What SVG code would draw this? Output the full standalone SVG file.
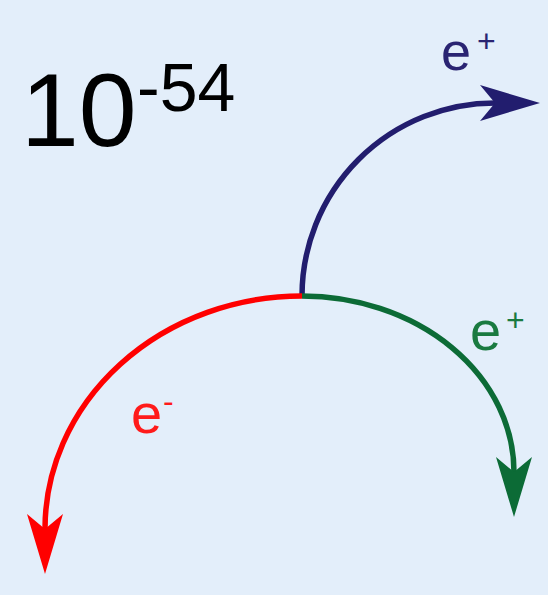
<svg xmlns="http://www.w3.org/2000/svg" width="548" height="595" viewBox="0 0 548 595">
<style>
.lbl{font-family:"Liberation Sans",Arial,sans-serif}
.arc{fill:none;stroke-width:5.5;stroke-linecap:butt}
.blue{stroke:#221D6E}
.green{stroke:#0C6B36}
.red{stroke:#FF0000}
</style>
<defs>
<marker id="ahB" markerUnits="userSpaceOnUse" markerWidth="62" markerHeight="40" viewBox="0 -20 62 40" refX="15" refY="0" orient="auto"><path d="M0,-18 L60,0 L0,18 L15,0 Z" fill="#221D6E"/></marker>
<marker id="ahG" markerUnits="userSpaceOnUse" markerWidth="62" markerHeight="40" viewBox="0 -20 62 40" refX="15" refY="0" orient="auto"><path d="M0,-18 L60,0 L0,18 L15,0 Z" fill="#0C6B36"/></marker>
<marker id="ahR" markerUnits="userSpaceOnUse" markerWidth="62" markerHeight="40" viewBox="0 -20 62 40" refX="15" refY="0" orient="auto"><path d="M0,-18 L60,0 L0,18 L15,0 Z" fill="#FF0000"/></marker>
</defs>
<rect x="0" y="0" width="548" height="595" fill="#E3EEFA"/>
<g id="title">
<text class="lbl" x="21" y="146" font-size="104" fill="#000">10</text>
<text class="lbl" x="137" y="111" font-size="68" fill="#000">-54</text>
</g>
<g id="connectors">
<path id="blue-arc" class="arc blue" d="M302,296 A193,193 0 0 1 495,103" marker-end="url(#ahB)"/>
<path id="green-arc" class="arc green" d="M302,296 A212,176 0 0 1 514,472" marker-end="url(#ahG)"/>
<path id="red-arc" class="arc red" d="M302,296 A257,233 0 0 0 45,529" marker-end="url(#ahR)"/>
</g>
<g id="label-blue">
<text class="lbl" x="441" y="70" font-size="54" fill="#2A2472">e</text>
<text class="lbl" x="477" y="52" font-size="32" fill="#2A2472">+</text>
</g>
<g id="label-green">
<text class="lbl" x="470" y="350" font-size="56" fill="#1A7A40">e</text>
<text class="lbl" x="506" y="331" font-size="32" fill="#1A7A40">+</text>
</g>
<g id="label-red">
<text class="lbl" x="131" y="433" font-size="56" fill="#FF1A1A">e</text>
<text class="lbl" x="163" y="412" font-size="32" fill="#FF1A1A">-</text>
</g>
</svg>
